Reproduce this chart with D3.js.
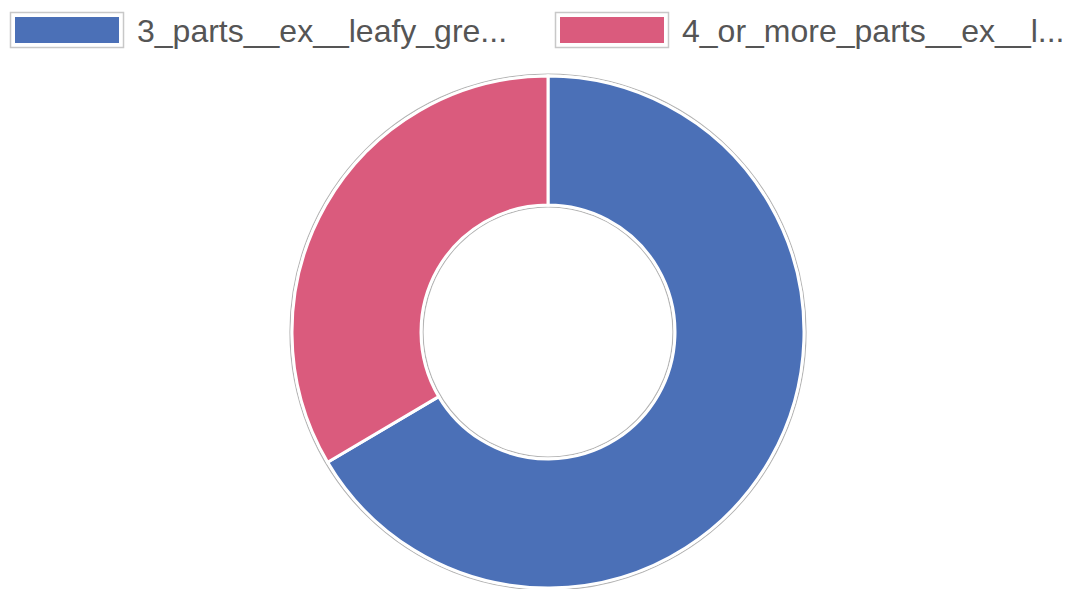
<!DOCTYPE html>
<html>
<head>
<meta charset="utf-8">
<script src="https://cdn.jsdelivr.net/npm/d3@7"></script>
<style>
  html, body { margin: 0; padding: 0; background: #fff; }
  svg { display: block; }
</style>
</head>
<body>
<svg id="chart"></svg>
<script>
const labels = ["3_parts__ex__leafy_gre...", "4_or_more_parts__ex__l..."];
const values = [66.5, 33.5];
const colors = ["#4b70b7", "#da5b7d"];

const width = 1091, height = 589;
const svg = d3.select("#chart").attr("width", width).attr("height", height);

// Legend
const legendX = [10, 555];
const legend = svg.append("g").attr("class", "legend");
labels.forEach((label, i) => {
  const g = legend.append("g").attr("transform", `translate(${legendX[i]},12)`);
  g.append("rect")
    .attr("x", 0.5).attr("y", 0.5)
    .attr("width", 113).attr("height", 35)
    .attr("fill", "#fff")
    .attr("stroke", "#c8c8c8")
    .attr("stroke-width", 1.5);
  g.append("rect")
    .attr("x", 5).attr("y", 5)
    .attr("width", 104).attr("height", 26)
    .attr("fill", colors[i]);
  g.append("text")
    .attr("x", 127).attr("y", 30)
    .attr("font-family", "'Liberation Sans', Arial, sans-serif")
    .attr("font-size", 32)
    .attr("fill", "#555")
    .text(label);
});

// Doughnut
const cx = 548, cy = 332;
const outerR = 256, innerR = 127;
const pie = d3.pie().sort(null).value(d => d);
const arc = d3.arc().innerRadius(innerR).outerRadius(outerR);

const g = svg.append("g").attr("transform", `translate(${cx},${cy})`);

// thin grey outline around the ring
g.append("circle").attr("r", outerR + 2).attr("fill", "none")
  .attr("stroke", "#b4b4b4").attr("stroke-width", 1.2);
g.append("circle").attr("r", innerR - 2).attr("fill", "none")
  .attr("stroke", "#b4b4b4").attr("stroke-width", 1.2);

g.selectAll("path.slice")
  .data(pie(values))
  .join("path")
  .attr("class", "slice")
  .attr("d", arc)
  .attr("fill", (d, i) => colors[i])
  .attr("stroke", "#fff")
  .attr("stroke-width", 3);
</script>
</body>
</html>
